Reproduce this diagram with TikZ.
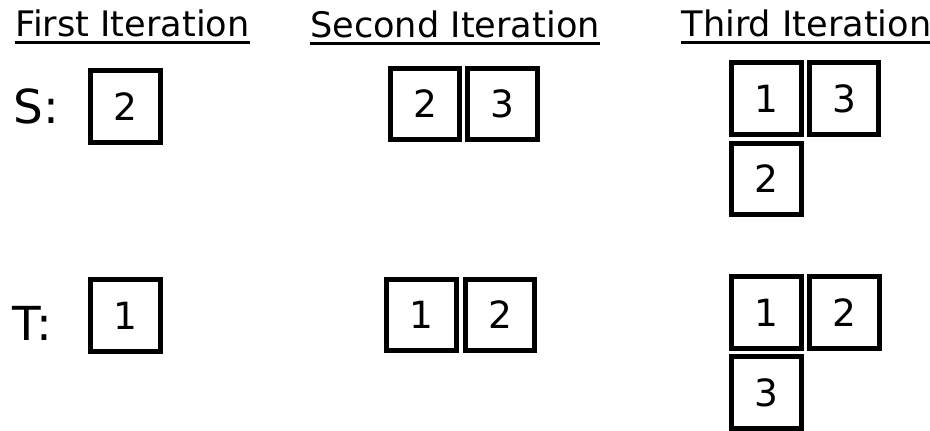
\documentclass[tikz,border=0pt]{standalone}
\usepackage{fontspec}
\setmainfont{DejaVu Sans}
\begin{document}
\begin{tikzpicture}[x=0.03cm,y=-0.03cm,
  cell/.style={draw,line width=4pt,minimum width=59.2pt,minimum height=60.9pt,inner sep=0pt,font=\fontsize{32}{38}\selectfont},
  head/.style={inner sep=0pt,anchor=base,font=\fontsize{30}{36}\selectfont},
  side/.style={inner sep=0pt,anchor=base,font=\fontsize{40}{48}\selectfont}]
  \useasboundingbox (0,0) rectangle (930,431);
  \node[head] (h1) at (132.5,37) {First Iteration};
  \node[head] (h2) at (455,38) {Second Iteration};
  \node[head] (h3) at (806.5,37) {Third Iteration};
  \foreach \h in {h1,h2,h3}
    \draw[line width=3pt] ([yshift=-4.5pt]\h.base west) -- ([yshift=-4.5pt]\h.base east);
  \node[side] (s) at (36.5,124) {S:};
  \node[side] (t) at (32.5,340) {T:};
  \node[cell] (s1) at (125.5,106.5) {2};
  \node[cell] (s2a) at (425,104) {2};
  \node[cell] (s2b) at (502.5,104) {3};
  \node[cell] (s3a) at (766.5,98.5) {1};
  \node[cell] (s3b) at (844,98.5) {3};
  \node[cell] (s3c) at (766.5,179) {2};
  \node[cell] (t1) at (125.5,315.5) {1};
  \node[cell] (t2a) at (421.5,315) {1};
  \node[cell] (t2b) at (500,315) {2};
  \node[cell] (t3a) at (766.5,312.5) {1};
  \node[cell] (t3b) at (844.5,312.5) {2};
  \node[cell] (t3c) at (766.5,392.5) {3};
\end{tikzpicture}
\end{document}
